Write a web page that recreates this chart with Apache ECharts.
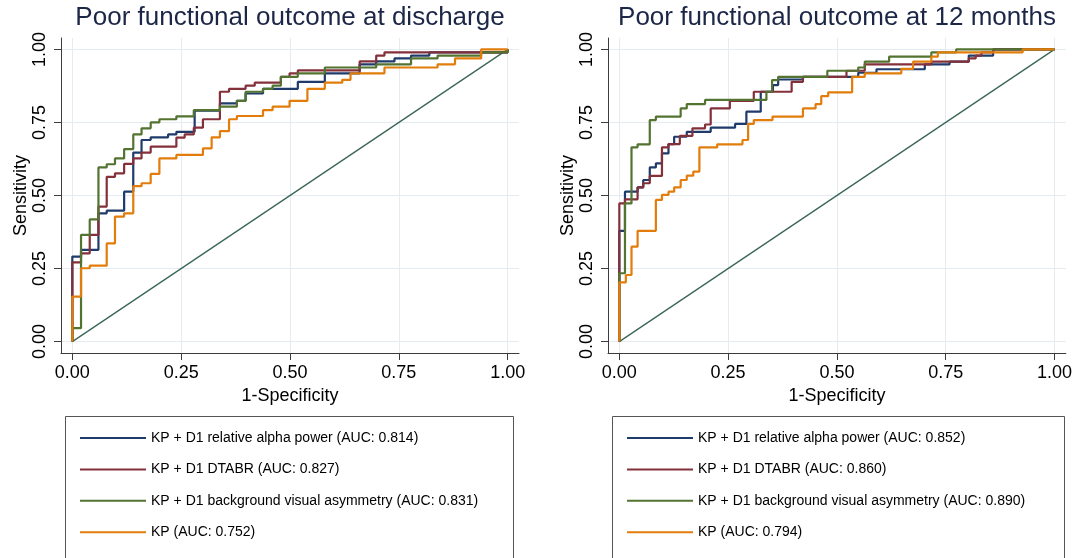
<!DOCTYPE html>
<html>
<head>
<meta charset="utf-8">
<script src="https://cdn.jsdelivr.net/npm/echarts@6/dist/echarts.min.js"></script>
<style>
html,body{margin:0;padding:0;background:#fff;}
#chart{width:1075px;height:558px;}
</style>
</head>
<body>
<div id="chart"></div>
<script>
// ---------- data ----------
const panelTitles = ['Poor functional outcome at discharge', 'Poor functional outcome at 12 months'];
const tickValues = [0, 0.25, 0.5, 0.75, 1];
const xAxisTitle = '1-Specificity';
const yAxisTitle = 'Sensitivity';

const dischargeNames = [
  'KP + D1 relative alpha power (AUC: 0.814)',
  'KP + D1 DTABR (AUC: 0.827)',
  'KP + D1 background visual asymmetry (AUC: 0.831)',
  'KP (AUC: 0.752)'
];
const monthsNames = [
  'KP + D1 relative alpha power (AUC: 0.852)',
  'KP + D1 DTABR (AUC: 0.860)',
  'KP + D1 background visual asymmetry (AUC: 0.890)',
  'KP (AUC: 0.794)'
];

// Discharge panel (1-specificity / sensitivity corner points)
const disAlphaFpr = [0, 0.020, 0.060, 0.079, 0.119, 0.140, 0.159, 0.180, 0.220, 0.239, 0.281, 0.339, 0.378, 0.398, 0.438, 0.518, 0.580, 0.660, 0.698, 0.740, 0.778, 0.820, 1.000, 1.000];
const disAlphaTpr = [0, 0.291, 0.314, 0.439, 0.448, 0.513, 0.647, 0.690, 0.699, 0.709, 0.718, 0.790, 0.815, 0.824, 0.849, 0.865, 0.889, 0.918, 0.949, 0.959, 0.969, 0.979, 0.990, 1.000];
const disDtabrFpr = [0, 0.020, 0.040, 0.060, 0.079, 0.098, 0.119, 0.140, 0.159, 0.180, 0.239, 0.258, 0.279, 0.300, 0.339, 0.360, 0.398, 0.419, 0.479, 0.499, 0.518, 0.660, 0.698, 0.717, 1.000, 1.000];
const disDtabrTpr = [0, 0.271, 0.302, 0.365, 0.462, 0.564, 0.576, 0.608, 0.627, 0.647, 0.667, 0.698, 0.709, 0.732, 0.761, 0.855, 0.865, 0.876, 0.886, 0.906, 0.918, 0.928, 0.959, 0.979, 0.990, 1.000];
const disAsymFpr = [0, 0.020, 0.040, 0.060, 0.079, 0.098, 0.119, 0.140, 0.159, 0.180, 0.200, 0.239, 0.279, 0.339, 0.378, 0.398, 0.438, 0.460, 0.479, 0.518, 0.580, 0.698, 0.778, 0.839, 0.939, 1.000, 1.000];
const disAsymTpr = [0, 0.046, 0.365, 0.418, 0.596, 0.607, 0.627, 0.659, 0.709, 0.730, 0.750, 0.761, 0.771, 0.792, 0.804, 0.824, 0.855, 0.865, 0.876, 0.906, 0.918, 0.938, 0.949, 0.969, 0.979, 0.990, 1.000];
const disKpFpr = [0, 0.020, 0.040, 0.079, 0.098, 0.119, 0.140, 0.159, 0.180, 0.200, 0.239, 0.300, 0.320, 0.339, 0.360, 0.378, 0.438, 0.460, 0.499, 0.540, 0.580, 0.620, 0.639, 0.717, 0.839, 0.879, 0.939, 1.000];
const disKpTpr = [0, 0.154, 0.251, 0.260, 0.336, 0.428, 0.439, 0.532, 0.542, 0.574, 0.627, 0.639, 0.661, 0.699, 0.720, 0.761, 0.772, 0.792, 0.804, 0.824, 0.865, 0.886, 0.896, 0.918, 0.938, 0.949, 0.969, 1.000];

// 12-month panel
const monAlphaFpr = [0, 0.013, 0.042, 0.055, 0.070, 0.084, 0.098, 0.113, 0.126, 0.155, 0.210, 0.266, 0.292, 0.325, 0.353, 0.365, 0.422, 0.549, 0.591, 0.702, 0.759, 0.803, 0.859, 1.000];
const monAlphaTpr = [0, 0.379, 0.513, 0.528, 0.553, 0.596, 0.610, 0.644, 0.676, 0.701, 0.718, 0.732, 0.745, 0.787, 0.855, 0.878, 0.897, 0.906, 0.920, 0.932, 0.949, 0.958, 0.979, 1.000];
const monDtabrFpr = [0, 0.013, 0.042, 0.055, 0.070, 0.098, 0.113, 0.139, 0.168, 0.197, 0.210, 0.254, 0.309, 0.396, 0.422, 0.522, 0.564, 0.717, 0.803, 0.819, 0.832, 0.859, 1.000];
const monDtabrTpr = [0, 0.473, 0.487, 0.528, 0.542, 0.567, 0.665, 0.676, 0.704, 0.730, 0.743, 0.798, 0.824, 0.855, 0.889, 0.906, 0.927, 0.949, 0.958, 0.969, 0.979, 0.990, 1.000];
const monAsymFpr = [0, 0.013, 0.028, 0.042, 0.070, 0.084, 0.141, 0.155, 0.197, 0.338, 0.351, 0.365, 0.478, 0.549, 0.564, 0.620, 0.717, 0.774, 1.000];
const monAsymTpr = [0, 0.234, 0.473, 0.665, 0.675, 0.758, 0.770, 0.798, 0.813, 0.827, 0.855, 0.895, 0.906, 0.927, 0.938, 0.958, 0.975, 0.990, 1.000];
const monKpFpr = [0, 0.015, 0.028, 0.042, 0.084, 0.098, 0.113, 0.126, 0.141, 0.155, 0.170, 0.184, 0.225, 0.283, 0.296, 0.309, 0.352, 0.422, 0.451, 0.464, 0.480, 0.535, 0.564, 0.648, 0.675, 0.717, 0.732, 0.927, 1.000];
const monKpTpr = [0, 0.203, 0.228, 0.325, 0.379, 0.485, 0.502, 0.513, 0.528, 0.553, 0.568, 0.582, 0.665, 0.675, 0.690, 0.745, 0.758, 0.770, 0.798, 0.813, 0.840, 0.853, 0.906, 0.918, 0.933, 0.958, 0.975, 0.990, 1.000];

const referenceX = [0, 1];
const referenceY = [0, 1];

// ---------- styling ----------
const FONT = 'Liberation Sans, Arial, Helvetica, sans-serif';
const curveColors = ['#1f3b6b', '#84303b', '#537330', '#e27d0c'];
const refColor = '#3a6654';
const axisColor = '#3c3c3c';
const gridColor = '#e4ecf1';

const panels = [
  { left: 61, title: panelTitles[0], names: dischargeNames,
    curves: [[disAlphaFpr, disAlphaTpr], [disDtabrFpr, disDtabrTpr], [disAsymFpr, disAsymTpr], [disKpFpr, disKpTpr]] },
  { left: 608, title: panelTitles[1], names: monthsNames,
    curves: [[monAlphaFpr, monAlphaTpr], [monDtabrFpr, monDtabrTpr], [monAsymFpr, monAsymTpr], [monKpFpr, monKpTpr]] }
];
const GRID_W = 458, GRID_TOP = 38, GRID_H = 315;

function zip(a, b) {
  const n = Math.min(a.length, b.length);
  const out = [];
  for (let i = 0; i < n; i++) out.push([a[i], b[i]]);
  return out;
}

const grid = [], xAxis = [], yAxis = [], series = [], legend = [], graphic = [];
panels.forEach((p, pi) => {
  grid.push({ left: p.left, top: GRID_TOP, width: GRID_W, height: GRID_H, containLabel: false });
  xAxis.push({
    type: 'value', gridIndex: pi, min: -0.026, max: 1.026,
    name: xAxisTitle, nameLocation: 'middle', nameGap: 32,
    nameTextStyle: { fontFamily: FONT, fontSize: 18, color: '#000' },
    axisLine: { show: true, onZero: false, lineStyle: { color: axisColor, width: 1 } },
    axisTick: { show: true, inside: false, length: 7, customValues: tickValues, lineStyle: { color: axisColor } },
    axisLabel: { show: true, customValues: tickValues, margin: 11, fontFamily: FONT, fontSize: 18, color: '#000',
      formatter: v => v.toFixed(2) },
    splitLine: { show: true, lineStyle: { color: gridColor, width: 1 } }
  });
  yAxis.push({
    type: 'value', gridIndex: pi, min: -0.039, max: 1.039,
    name: yAxisTitle, nameLocation: 'middle', nameGap: 31,
    nameTextStyle: { fontFamily: FONT, fontSize: 18, color: '#000' },
    axisLine: { show: true, onZero: false, lineStyle: { color: axisColor, width: 1 } },
    axisTick: { show: true, inside: false, length: 7, customValues: tickValues, lineStyle: { color: axisColor } },
    axisLabel: { show: true, customValues: tickValues, rotate: 90, margin: 12, fontFamily: FONT, fontSize: 18, color: '#000',
      formatter: v => v.toFixed(2) },
    splitLine: { show: true, lineStyle: { color: gridColor, width: 1 } }
  });
  series.push({
    type: 'line', xAxisIndex: pi, yAxisIndex: pi, name: 'reference' + pi,
    data: zip(referenceX, referenceY), symbol: 'none', silent: true,
    lineStyle: { color: refColor, width: 1.3 }, z: 1
  });
  p.curves.forEach((c, ci) => {
    series.push({
      type: 'line', xAxisIndex: pi, yAxisIndex: pi, name: p.names[ci],
      data: zip(c[0], c[1]), step: 'start', symbol: 'none', showSymbol: false,
      color: curveColors[ci],
      lineStyle: { color: curveColors[ci], width: 2.2 }, z: 2 + ci
    });
  });
  legend.push({
    data: p.names, orient: 'vertical', left: p.left + 14, top: 426,
    itemWidth: 66, itemHeight: 14, itemGap: 17.4, selectedMode: false,
    icon: 'path://M0,6 L66,6 L66,8 L0,8 Z',
    textStyle: { fontFamily: FONT, fontSize: 14, color: '#000' }
  });
  graphic.push({
    type: 'rect', shape: { x: p.left + 4.5, y: 416.5, width: pi === 0 ? 448 : 452, height: 160 },
    style: { fill: 'none', stroke: '#555', lineWidth: 1 }, silent: true
  });
  graphic.push({
    type: 'text', x: p.left + GRID_W / 2, y: 5,
    style: { text: p.title, fontFamily: FONT, fontSize: 26, fill: '#1c2647',
      textAlign: 'center', textVerticalAlign: 'top', align: 'center', verticalAlign: 'top' }
  });
});

const chart = echarts.init(document.getElementById('chart'), null, { renderer: 'canvas' });
chart.setOption({
  animation: false,
  backgroundColor: '#fff',
  grid, xAxis, yAxis, series, legend, graphic
});
</script>
</body>
</html>
